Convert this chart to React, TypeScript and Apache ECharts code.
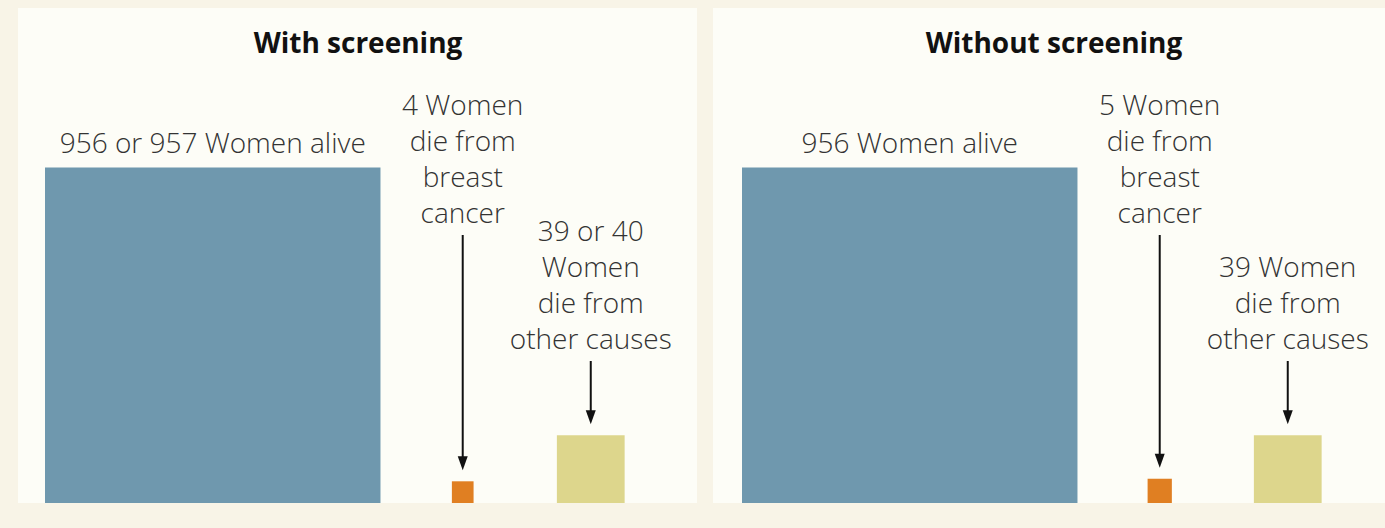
import React, { useEffect, useRef } from "react";
import * as echarts from "echarts";

// ---- data ----
const panelTitles = ["With screening", "Without screening"];
const categories = ["Women alive", "Women die from breast cancer", "Women die from other causes"];
const withScreening = [956, 4, 39]; // 956 or 957 alive, 39 or 40 other causes
const withoutScreening = [956, 5, 39];
const withLabels = [
  ["956 or 957 Women alive"],
  ["4 Women", "die from", "breast", "cancer"],
  ["39 or 40", "Women", "die from", "other causes"],
];
const withoutLabels = [
  ["956 Women alive"],
  ["5 Women", "die from", "breast", "cancer"],
  ["39 Women", "die from", "other causes"],
];

// ---- layout / style ----
const K = 10.85; // px per sqrt-unit (same on both axes)
const X_MAX = 58;
const Y_MAX = 40;
const GRID_BOTTOM = 503;
const gridLefts = [45, 742];
const slotCenters = [0, 38.5, 50.3]; // slot 0 is left aligned
const labelBottoms = [null, 230, 356];
const COLORS = ["#6f98ae", "#e07f22", "#ddd68c"];
const FONT = "'Open Sans', 'Noto Sans', sans-serif";

export default function App() {
  const ref = useRef<HTMLDivElement>(null);
  useEffect(() => {
    if (!ref.current) return;
    const chart = echarts.init(ref.current, null, { renderer: "svg" });

    const makeRender = (labels: string[][]) => (params: any, api: any) => {
      const slot = api.value(0);
      const value = api.value(1);
      const side = Math.sqrt(value);
      const xc = slot === 0 ? side / 2 : slotCenters[slot];
      const p0 = api.coord([xc - side / 2, side]);
      const sz = api.size([side, side]);
      const cx = p0[0] + sz[0] / 2;
      const top = p0[1];
      const children: any[] = [
        {
          type: "rect",
          shape: { x: p0[0], y: top, width: sz[0], height: sz[1] },
          style: { fill: COLORS[slot] },
        },
      ];
      const lb = slot === 0 ? top - 8 : (labelBottoms[slot] as number);
      children.push({
        type: "text",
        x: cx,
        y: lb,
        style: {
          text: labels[slot].join("\n"),
          fontSize: 28,
          fontWeight: 300,
          fontFamily: FONT,
          lineHeight: 36,
          fill: "#333333",
          align: "center",
          verticalAlign: "bottom",
        },
      });
      if (slot !== 0) {
        const y1 = lb + 5;
        const tip = top - 11;
        children.push({
          type: "line",
          shape: { x1: cx, y1, x2: cx, y2: tip - 12 },
          style: { stroke: "#111", lineWidth: 2 },
        });
        children.push({
          type: "polygon",
          shape: { points: [[cx - 5, tip - 14], [cx + 5, tip - 14], [cx, tip]] },
          style: { fill: "#111" },
        });
      }
      return { type: "group", children };
    };

    const gridW = X_MAX * K;
    const gridH = Y_MAX * K;
    const series = [withScreening, withoutScreening].map((vals, gi) => ({
      type: "custom",
      name: panelTitles[gi],
      xAxisIndex: gi,
      yAxisIndex: gi,
      z: 10,
      renderItem: makeRender(gi === 0 ? withLabels : withoutLabels),
      data: vals.map((v, i) => ({ name: categories[i], value: [i, v] })),
    }));

    chart.setOption({
      animation: false,
      backgroundColor: "#f8f4e7",
      grid: gridLefts.map((l) => ({
        left: l,
        top: GRID_BOTTOM - gridH,
        width: gridW,
        height: gridH,
        containLabel: false,
      })),
      xAxis: gridLefts.map((_, i) => ({
        type: "value",
        gridIndex: i,
        min: 0,
        max: X_MAX,
        show: false,
      })),
      yAxis: gridLefts.map((_, i) => ({
        type: "value",
        gridIndex: i,
        min: 0,
        max: Y_MAX,
        show: false,
      })),
      graphic: [
        { type: "rect", z: -5, shape: { x: 18, y: 8, width: 679, height: 495 }, style: { fill: "#fdfdf7" } },
        { type: "rect", z: -5, shape: { x: 713, y: 8, width: 672, height: 495 }, style: { fill: "#fdfdf7" } },
        {
          type: "text",
          x: 358,
          y: 42,
          style: {
            text: panelTitles[0],
            fontSize: 28,
            fontWeight: "bold",
            fontFamily: FONT,
            fill: "#111111",
            align: "center",
            verticalAlign: "middle",
          },
        },
        {
          type: "text",
          x: 1054,
          y: 42,
          style: {
            text: panelTitles[1],
            fontSize: 28,
            fontWeight: "bold",
            fontFamily: FONT,
            fill: "#111111",
            align: "center",
            verticalAlign: "middle",
          },
        },
      ],
      series,
    });
    return () => chart.dispose();
  }, []);
  return (
    <div
      ref={ref}
      style={{ position: "fixed", left: 0, top: 0, width: 1385, height: 528 }}
    />
  );
}
